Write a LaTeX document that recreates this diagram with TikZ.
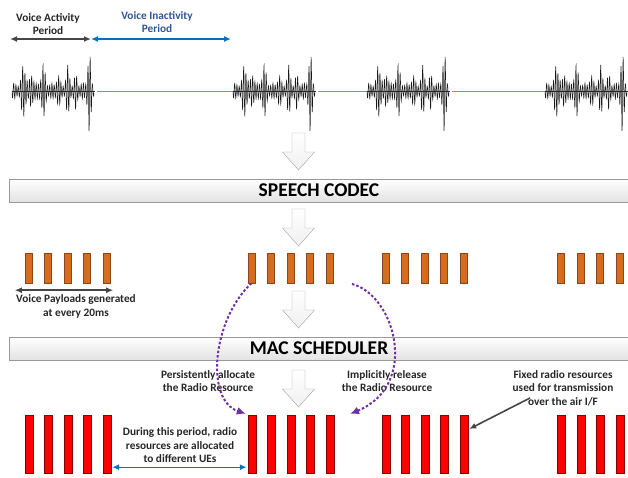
\documentclass[tikz,border=0pt]{standalone}
\usepackage{fontspec}
\setmainfont{Carlito}
\usetikzlibrary{arrows.meta,calc,positioning}
\definecolor{labelgray}{RGB}{38,38,38}
\definecolor{darkarrow}{RGB}{70,70,70}
\definecolor{inactblue}{RGB}{47,84,150}
\definecolor{lineblue}{RGB}{0,112,192}
\definecolor{idleblue}{RGB}{91,155,213}
\definecolor{codecorange}{RGB}{214,108,30}
\definecolor{codecedge}{RGB}{140,70,25}
\definecolor{slotred}{RGB}{255,0,0}
\definecolor{slotedge}{RGB}{130,0,0}
\definecolor{sppurple}{RGB}{112,48,160}

\tikzset{
  lbl/.style={font=\fontsize{11.3}{13.5}\selectfont\bfseries, align=center, text=labelgray, inner sep=0pt},
  stagebar/.style={draw=gray!80, top color=white, bottom color=gray!22, minimum height=23pt,
    font=\fontsize{19.5}{21}\selectfont\bfseries, text=black, inner sep=0pt},
  payload/.style={draw=codecedge, fill=codecorange, minimum width=7pt, minimum height=30pt, inner sep=0pt},
  slot/.style={draw=slotedge, fill=slotred, minimum width=8pt, minimum height=58pt, inner sep=0pt},
  wave/.style={gray!20!black, line width=0.5pt},
  grayarrow/.style={darkarrow, line width=1.6pt, -{Latex[length=7pt,width=6pt]}},
  graydouble/.style={darkarrow, line width=1.6pt, {Latex[length=7pt,width=6pt]}-{Latex[length=7pt,width=6pt]}},
  bluedouble/.style={lineblue, line width=1.4pt, {Latex[length=7pt,width=6pt]}-{Latex[length=7pt,width=6pt]}},
  schedarrow/.style={sppurple, line width=2pt, dash pattern=on 2.5pt off 2pt, -{Latex[length=9pt,width=8pt]}},
  blockarrow/.pic={
    \draw[draw=gray!70, top color=white, bottom color=gray!12]
      (-6.5,0) -- (6.5,0) -- (6.5,19) -- (16,19) -- (0,37) -- (-16,19) -- (-6.5,19) -- cycle;
  }
}

\begin{document}
\begin{tikzpicture}[x=1pt,y=-1pt,
  declare function={env(\t)=8+28*max(0,1-abs(\t-12)/4)+15*max(0,1-abs(\t-20)/3.5)
    +24*max(0,1-abs(\t-31)/4)+11*max(0,1-abs(\t-46)/3.5)+20*max(0,1-abs(\t-56)/3.5)
    +12*max(0,1-abs(\t-64)/3)+40*max(0,1-abs(\t-77)/3.5);}]
\useasboundingbox (0,0) rectangle (628,477);

% speech signal
\foreach \s/\e in {12/233,233/367,367/545,545/700}{
  \coordinate (b\s) at (\s,91);
  \draw[wave] plot[domain=0:82,samples=360] ({\s+\x},{91+env(\x)*sin(160*\x)*(0.8+0.2*sin(47*\x))});
  \draw[gray!30!black,line width=0.5pt] (\s,91) -- ({\s+83},91);
  \draw[idleblue,line width=1pt] ({\s+85},91) -- (\e,91);
}
\coordinate (actl) at (10,39);
\coordinate (actr) at (91,39);
\coordinate (inactr) at (231,39);
\draw[graydouble] (actl) -- (actr);
\draw[bluedouble] (actr) -- (inactr);
\node[lbl] (actlbl) at (48,24) {Voice Activity\\Period};
\node[lbl,text=inactblue] (inactlbl) at (157,22) {Voice Inactivity\\Period};

% stages
\pic at (298.5,133) {blockarrow};
\node[stagebar,minimum width=620pt] (codec) at (319,190.5) {SPEECH CODEC};
\pic at (298.5,209) {blockarrow};

\foreach \g/\c in {1/28.5,2/251.5,3/385.5,4/561}
  \foreach \k in {1,...,5}{
    \node[payload] (p\g-\k) at ({\c+19.5*(\k-1)},268) {};
    \node[slot] (r\g-\k) at ({\c+0.5+19.5*(\k-1)},444) {};
  }

\draw[graydouble] ($(p1-1.south west)+(-10,7)$) -- ($(p1-5.south east)+(3,7)$);
\node[lbl] (paylbl) at (76,306.5) {Voice Payloads generated\\at every 20ms};

\pic at (298.5,291) {blockarrow};
\node[stagebar,minimum width=620pt] (mac) at (319,348.5) {MAC SCHEDULER};
\pic at (298.5,370) {blockarrow};

% scheduling
\node[lbl] (alloclbl) at (208,381) {Persistently allocate\\the Radio Resource};
\node[lbl] (rellbl) at (387,381) {Implicitly release\\the Radio Resource};
\node[lbl] (fixedlbl) at (563,388) {Fixed radio resources\\used for transmission\\over the air I/F};
\node[lbl] (idlelbl) at (180,445.5) {During this period, radio\\resources are allocated\\to different UEs};

\draw[schedarrow] (p2-1.south) .. controls (212,320) and (205,400) .. ($(r2-1.north west)+(-2,-1)$);
\coordinate (relstart) at (352,284);
\coordinate (relend) at (350,414);
\draw[schedarrow] (relstart) .. controls (395,295) and (420,385) .. (relend);

\coordinate (fixedtail) at (530,398);
\draw[grayarrow] (fixedtail) -- ($(r3-5.east)+(1,-15)$);
\draw[bluedouble] ($(r1-5.south east)+(1,-6)$) -- ($(r2-1.south west)+(-1,-6)$);
\end{tikzpicture}
\end{document}
